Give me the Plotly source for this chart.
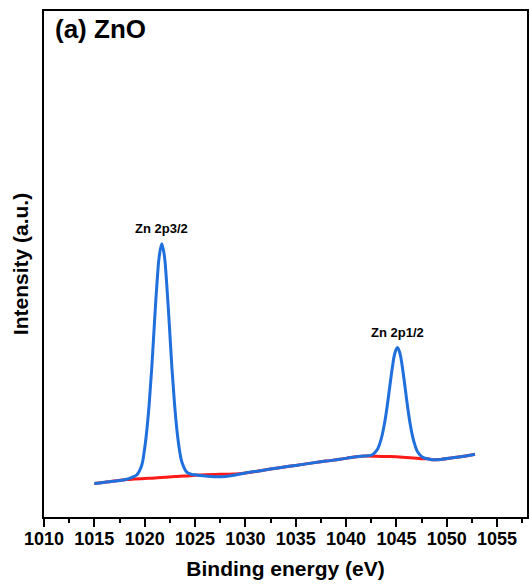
import plotly.graph_objects as go

# Envelope (fitted spectrum)
env_x = [1015.0, 1016.5, 1018.2, 1018.7, 1019.2, 1019.7, 1019.95, 1020.2, 1020.45, 1020.7,
         1020.95, 1021.2, 1021.45, 1021.7, 1021.95, 1022.2, 1022.45, 1022.7, 1022.95, 1023.2,
         1023.45, 1023.7, 1024.2, 1024.7, 1025.2, 1026.0, 1027.0, 1028.0, 1029.0, 1030.0,
         1031.5, 1033.4, 1035.0, 1036.7, 1038.0, 1039.4, 1040.5, 1041.5, 1042.1, 1042.6,
         1043.1, 1043.35, 1043.6, 1043.85, 1044.1, 1044.35, 1044.6, 1044.85, 1045.1, 1045.35,
         1045.6, 1045.85, 1046.1, 1046.35, 1046.6, 1046.85, 1047.1, 1047.6, 1048.1, 1048.6,
         1049.5, 1050.6, 1051.7, 1052.8]
env_y = [6.6, 6.95, 7.45, 7.8, 8.3, 10.2, 12.9, 16.9, 22.4, 29.4,
         37.7, 45.6, 51.6, 54.0, 51.7, 45.7, 37.9, 29.6, 22.7, 17.2,
         13.3, 10.8, 8.8, 8.4, 8.3, 8.1, 7.95, 8.0, 8.3, 8.7,
         9.15, 9.75, 10.2, 10.7, 11.05, 11.4, 11.75, 12.0, 12.1, 12.3,
         13.3, 14.5, 16.3, 18.85, 22.15, 25.9, 29.6, 32.4, 33.5, 32.35,
         29.5, 25.8, 21.95, 18.6, 16.0, 14.15, 12.9, 11.8, 11.5, 11.3,
         11.4, 11.7, 12.0, 12.4]

# Background (Shirley-type baseline)
bg_x = [1015.0, 1016.5, 1018.2, 1019.0, 1020.0, 1021.0, 1022.0, 1023.0, 1024.0, 1025.0,
        1026.0, 1027.0, 1028.0, 1029.0, 1030.0, 1031.5, 1033.4, 1035.0, 1036.7, 1038.0,
        1039.4, 1040.5, 1041.5, 1042.0, 1043.0, 1044.0, 1045.0, 1046.0, 1047.0, 1047.6,
        1048.1, 1048.6, 1049.5, 1050.6, 1051.7, 1052.8]
bg_y = [6.6, 6.95, 7.4, 7.5, 7.6, 7.7, 7.85, 8.0, 8.1, 8.25,
        8.35, 8.4, 8.45, 8.5, 8.7, 9.15, 9.75, 10.2, 10.7, 11.05,
        11.4, 11.75, 12.0, 12.05, 12.0, 11.95, 11.9, 11.75, 11.6, 11.5,
        11.5, 11.3, 11.4, 11.7, 12.0, 12.4]

peak_labels = ["Zn 2p3/2", "Zn 2p1/2"]
peak_idx = [env_y.index(54.0), env_y.index(33.5)]

x_range = [1010, 1057.97]
y_range = [0, 100]

FONT = "Liberation Sans, Arial, sans-serif"

fig = go.Figure()
fig.add_trace(go.Scatter(x=bg_x, y=bg_y, mode="lines", line=dict(color="#ff1a1a", width=3, shape="spline"),
                         hoverinfo="skip", showlegend=False))
fig.add_trace(go.Scatter(x=env_x, y=env_y, mode="lines", line=dict(color="#1f6fdc", width=3, shape="spline"),
                         showlegend=False))

for lab, i in zip(peak_labels, peak_idx):
    fig.add_annotation(x=env_x[i], y=env_y[i], xref="x", yref="y", text="<b>" + lab + "</b>",
                       showarrow=False, yshift=15, font=dict(family=FONT, size=13, color="black"))

fig.add_annotation(x=0.018, y=0.998, xref="paper", yref="paper", xanchor="left", yanchor="top",
                   text="<b>(a) ZnO</b>", showarrow=False, font=dict(family=FONT, size=26, color="black"))

fig.update_layout(
    width=530, height=585,
    margin=dict(l=44, r=1, t=11, b=68),
    paper_bgcolor="white", plot_bgcolor="white",
    font=dict(family=FONT, color="black"),
)
fig.update_xaxes(
    range=x_range, showgrid=False, zeroline=False,
    showline=True, linecolor="black", linewidth=2, mirror=True,
    ticks="outside", ticklen=8, tickwidth=2, tickcolor="black", dtick=5, tick0=1010,
    tickfont=dict(family=FONT, size=18, color="black"), ticklabelstandoff=-4,
    tickprefix="<b>", ticksuffix="</b>",
    minor=dict(dtick=2.5, ticks="outside", ticklen=4, tickwidth=2, tickcolor="black", showgrid=False),
    title=dict(text="<b>Binding energy (eV)</b>", font=dict(family=FONT, size=21, color="black"), standoff=14),
)
fig.update_yaxes(
    range=y_range, showgrid=False, zeroline=False,
    showline=True, linecolor="black", linewidth=2, mirror=True,
    showticklabels=False, ticks="",
    title=dict(text="<b>Intensity (a.u.)</b>", font=dict(family=FONT, size=21, color="black"), standoff=8),
)

fig.write_html("out.html")
